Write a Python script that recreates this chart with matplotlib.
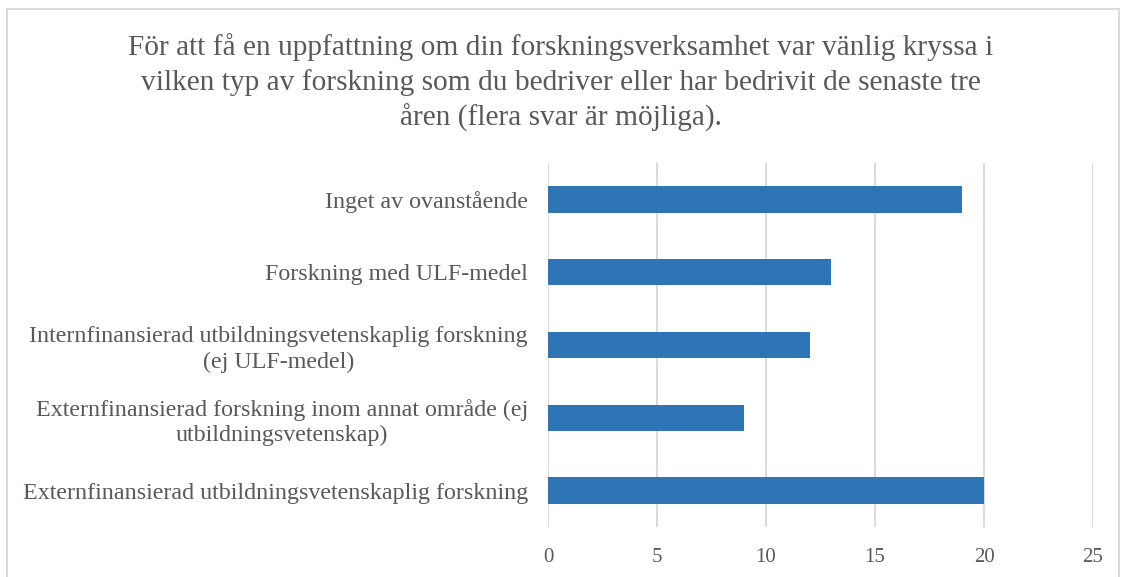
import matplotlib.pyplot as plt
from matplotlib.patches import Rectangle

# data, nerifran och upp som i diagrammet
kategorier = [
    "Externfinansierad utbildningsvetenskaplig forskning",
    "Externfinansierad forskning inom annat område (ej\nutbildningsvetenskap)",
    "Internfinansierad utbildningsvetenskaplig forskning\n(ej ULF-medel)",
    "Forskning med ULF-medel",
    "Inget av ovanstående",
]
antal = [20, 9, 12, 13, 19]
xticks = [0, 5, 10, 15, 20, 25]

titel = ("För att få en uppfattning om din forskningsverksamhet var vänlig kryssa i\n"
         "vilken typ av forskning som du bedriver eller har bedrivit de senaste tre\n"
         "åren (flera svar är möjliga).")

plt.rcParams['font.family'] = ['Liberation Serif', 'DejaVu Serif']
text_color = '#595959'

fig = plt.figure(figsize=(11.22, 5.77), dpi=100)
ax = fig.add_axes([0.4884, 0.0867, 0.4858, 0.6308])

y = range(len(kategorier))
ax.barh(y, antal, height=0.36, color='#2e75b6', zorder=3)

ax.set_xlim(0, 25)
ax.set_ylim(-0.5, len(kategorier) - 0.5)
ax.set_xticks(xticks)
ax.set_xticklabels([str(t) for t in xticks], fontsize=15, color=text_color)
ax.set_yticks(list(y))
ax.set_yticklabels(kategorier, fontsize=17.3, color=text_color, ha='right',
                   multialignment='center', linespacing=1.25)
ax.tick_params(axis='y', length=0, pad=14.5)
ax.tick_params(axis='x', length=0, pad=15)
ax.grid(axis='x', color='#d9d9d9', linewidth=1.3, zorder=0)
for s in ax.spines.values():
    s.set_visible(False)

fig.text(0.5, 0.857, titel, ha='center', va='center', fontsize=21.2,
         color=text_color, linespacing=1.38)

# ram runt diagrammet
fig.patches.append(Rectangle((0.0065, -0.1), 0.9905, 1.084, transform=fig.transFigure,
                             fill=False, edgecolor='#d9d9d9', linewidth=1.3))

fig.savefig('out.png', dpi=100)
